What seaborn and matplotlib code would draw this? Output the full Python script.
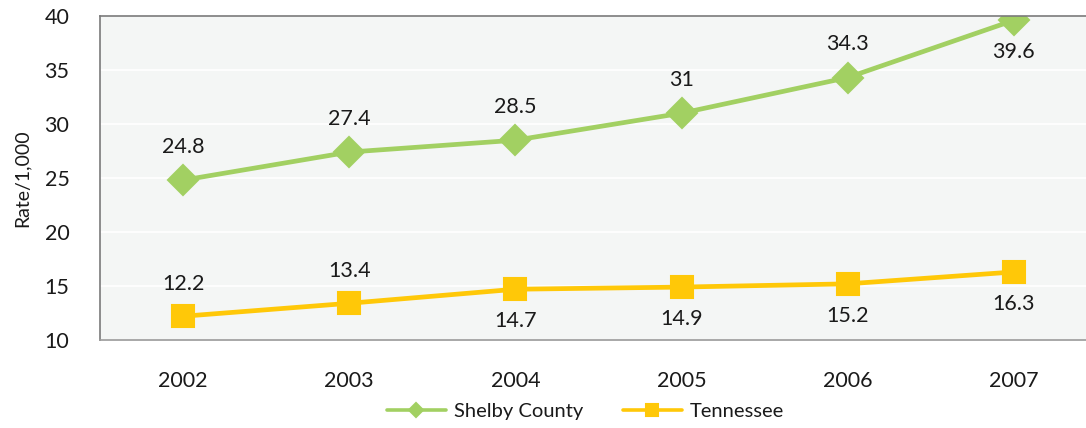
import pandas as pd
import matplotlib
matplotlib.use("Agg")
import matplotlib.pyplot as plt
import seaborn as sns

years = ["2002", "2003", "2004", "2005", "2006", "2007"]
shelby = [24.8, 27.4, 28.5, 31, 34.3, 39.6]
tennessee = [12.2, 13.4, 14.7, 14.9, 15.2, 16.3]
shelby_labels = ["24.8", "27.4", "28.5", "31", "34.3", "39.6"]
tn_labels = ["12.2", "13.4", "14.7", "14.9", "15.2", "16.3"]

sns.set_theme(style="white")
plt.rcParams["font.family"] = ["Lato", "DejaVu Sans"]

green = "#a2d062"
yellow = "#ffc808"
txt = "#1a1a1a"

x = list(range(len(years)))
df_s = pd.DataFrame({"x": x, "rate": shelby})
df_t = pd.DataFrame({"x": x, "rate": tennessee})

fig = plt.figure(figsize=(10.86, 4.28), dpi=100)
ax = fig.add_axes([100 / 1086, 1 - 340 / 428, 1 - 100 / 1086 + 0.01, 324 / 428])
ax.set_facecolor("#f4f6f5")

sns.lineplot(data=df_s, x="x", y="rate", color=green, marker="D",
             linewidth=3.4, markersize=15, markeredgewidth=1.5,
             markeredgecolor=green, label="Shelby County", ax=ax)
sns.lineplot(data=df_t, x="x", y="rate", color=yellow, marker="s",
             linewidth=3.4, markersize=16, markeredgewidth=1.5,
             markeredgecolor=yellow, label="Tennessee", ax=ax)
for ln in ax.lines:
    ln.set_solid_joinstyle("round")

ax.set_ylim(10, 40)
ax.set_xlim(-0.5, 5.5)
ax.set_yticks(range(10, 41, 5))
ax.set_xticks(x)
ax.set_xticklabels(years)
ax.yaxis.grid(True, color="white", linewidth=1.2)
ax.set_axisbelow(True)
ax.tick_params(axis="both", labelsize=15.5, length=0, colors=txt)
ax.tick_params(axis="x", pad=22)
ax.tick_params(axis="y", pad=22)
ax.set_xlabel("")
ax.set_ylabel("Rate/1,000", fontsize=14, labelpad=10, color=txt)

for side in ["top", "left"]:
    ax.spines[side].set_color("#7a7a7a")
    ax.spines[side].set_linewidth(1.2)
for side in ["right", "bottom"]:
    ax.spines[side].set_color("#9a9a9a")
    ax.spines[side].set_linewidth(1.2)

# data labels
for i, (v, t) in enumerate(zip(shelby, shelby_labels)):
    off = -23 if i == 5 else 24
    ax.annotate(t, (i, v), xytext=(0, off), textcoords="offset points",
                ha="center", va="center", fontsize=15.5, color=txt)
for i, (v, t) in enumerate(zip(tennessee, tn_labels)):
    off = 23 if i < 2 else -23
    ax.annotate(t, (i, v), xytext=(0, off), textcoords="offset points",
                ha="center", va="center", fontsize=15.5, color=txt)

leg = ax.legend(loc="center", bbox_to_anchor=(0.487, -0.222), ncol=2,
                frameon=False, fontsize=14.5, handlelength=2.9,
                columnspacing=2.0, handletextpad=0.4, markerscale=0.5)
for t in leg.get_texts():
    t.set_color(txt)
for h in leg.legend_handles:
    h.set_linewidth(2.6)

fig.savefig("out.png", dpi=100)
